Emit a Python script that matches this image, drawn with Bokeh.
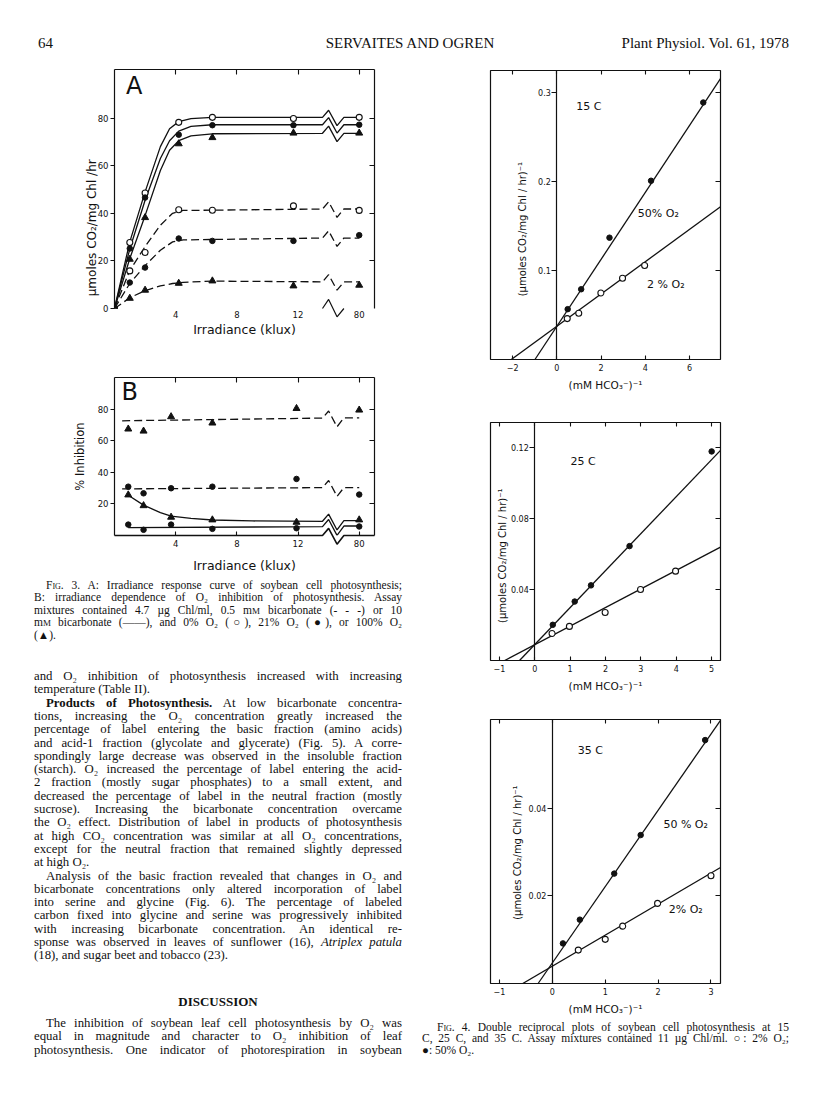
import math
from bokeh.plotting import figure
from bokeh.models import LinearAxis, FixedTicker, Div, Range1d
from bokeh.layouts import column, row
from bokeh.embed import file_html
from bokeh.resources import INLINE
from bokeh.core.properties import value

INK = "#111111"
SANS = "DejaVu Sans"

# ---------------- Fig. 3 data ----------------
irr_A = [0.0, 1.0, 2.0, 4.2, 6.4, 11.7, 80.0]          # klux
irr_B = [0.9, 1.9, 3.7, 6.4, 11.9, 80.0]               # klux
POS_80 = 16.0                                            # 80 klux drawn after the axis break

A_hi_0 = [0.0, 27.7, 48.5, 78.2, 80.3, 79.8, 80.3]
A_hi_21 = [0.0, 25.2, 46.6, 73.0, 77.0, 77.0, 77.2]
A_hi_100 = [0.0, 20.7, 38.2, 69.2, 71.8, 73.7, 73.7]
A_lo_0 = [0.0, 15.8, 23.5, 41.5, 41.3, 43.1, 41.2]
A_lo_21 = [0.0, 10.9, 17.2, 29.4, 28.4, 28.4, 30.8]
A_lo_100 = [0.0, 4.3, 7.7, 10.6, 11.6, 9.5, 9.8]

# drawn curves (vertices)
A_cx_hi = [0, 1.0, 2.0, 3.0, 3.6, 4.2, 5.0, 6.4, 13.6]
A_c_hi_0 = [0, 28, 49, 68, 75.5, 78.5, 79.8, 80.3, 80.3]
A_c_hi_21 = [0, 25, 45.5, 63, 70.5, 74.5, 76.5, 77.2, 77.2]
A_c_hi_100 = [0, 21, 39, 58, 66.5, 70.5, 72.5, 73.4, 73.6]
A_cx_lo = [0, 1.0, 2.0, 3.0, 3.8, 4.5, 6.4, 13.6]
A_c_lo_0 = [0, 16, 26, 35, 40, 41.2, 41.3, 41.8]
A_c_lo_21 = [0, 10.5, 18, 24.5, 28, 28.8, 29, 29.6]
A_c_lo_100 = [0, 4.5, 7.5, 9.5, 10.5, 11, 11.5, 11.2]

B_lo_100 = [67.4, 66.1, 75.2, 71.2, 80.4, 79.4]
B_lo_21 = [30.9, 26.7, 29.9, 30.9, 35.8, 25.9]
B_hi_100 = [25.7, 18.9, 11.6, 9.9, 8.4, 9.9]
B_hi_21 = [6.9, 3.6, 6.9, 4.2, 4.6, 5.7]

B_cx_lo = [0.5, 13.6]
B_c_lo_100 = [72.6, 74.3]
B_c_lo_21 = [29.5, 30.3]
B_cx_hi100 = [0.9, 1.9, 3.0, 3.7, 5.0, 6.4, 9.0, 13.6]
B_c_hi_100 = [25.5, 19.2, 14.5, 12.3, 10.8, 9.8, 9.2, 9.0]
B_cx_hi21 = [0.9, 13.6]
B_c_hi_21 = [5.0, 5.6]

BREAK_X = [13.6, 14.0, 14.55, 15.0]
BREAK_DY_A = [0, 3.0, -3.5, 0]
BREAK_DY_B = [0, 4.5, -5.5, 0]

# ---------------- Fig. 4 data ----------------
c15_x50 = [0.49, 1.1, 2.38, 4.26, 6.62]
c15_y50 = [0.0566, 0.079, 0.137, 0.201, 0.289]
c15_x2 = [0.47, 0.99, 1.99, 2.97, 3.97]
c15_y2 = [0.046, 0.052, 0.0747, 0.0913, 0.1057]
c15_fit50 = ([-0.99, 7.4], [0.0, 0.316])
c15_fit2 = ([-2.06, 7.4], [0.0, 0.1717])

c25_x50 = [0.51, 1.13, 1.59, 2.68, 5.0]
c25_y50 = [0.0201, 0.0332, 0.0423, 0.0644, 0.1177]
c25_x2 = [0.49, 0.98, 1.99, 2.99, 3.98]
c25_y2 = [0.0152, 0.0192, 0.027, 0.040, 0.0503]
c25_fit50 = ([-0.43, 5.25], [0.0, 0.1183])
c25_fit2 = ([-0.85, 5.25], [0.0, 0.0638])

c35_x50 = [0.2, 0.52, 1.17, 1.67, 2.89]
c35_y50 = [0.00916, 0.01458, 0.0251, 0.0339, 0.0556]
c35_x2 = [0.49, 1.0, 1.33, 1.99, 3.0]
c35_y2 = [0.00763, 0.01008, 0.0131, 0.0183, 0.0246]
c35_fit50 = ([-0.27, 3.19], [0.0, 0.0603])
c35_fit2 = ([-0.56, 3.18], [0.0, 0.0265])


def pos(v):
    return POS_80 if v >= 80 else v


def broken(xs, ys, dy, end=None):
    y0 = ys[-1]
    y1 = y0 if end is None else end
    bx = list(xs) + BREAK_X[1:] + [POS_80]
    by = list(ys) + [y0 + dy[1], y0 + dy[2], y1, y1]
    return bx, by


def make_fig(w, h, xr, yr, ml, mr, mt, mb):
    p = figure(width=w, height=h, x_range=Range1d(*xr), y_range=Range1d(*yr),
               output_backend="svg", toolbar_location=None,
               min_border_left=ml, min_border_right=mr,
               min_border_top=mt, min_border_bottom=mb)
    p.xgrid.visible = False
    p.ygrid.visible = False
    p.outline_line_color = None
    p.border_fill_color = "white"
    p.background_fill_color = "white"
    return p


def style_axis(ax, ticks, tin=0, tout=0, labels=True, line=True, size="8.5px",
               standoff=2, overrides=None, title=None, tsize="12px", tstand=2):
    ax.ticker = FixedTicker(ticks=ticks)
    ax.minor_tick_line_color = None
    ax.major_tick_in = tin
    ax.major_tick_out = tout
    ax.major_tick_line_color = INK if (tin or tout) else None
    ax.major_tick_line_width = 1.1
    ax.axis_line_color = INK if line else None
    ax.axis_line_width = 1.2
    if labels:
        ax.major_label_text_font = SANS
        ax.major_label_text_font_size = size
        ax.major_label_text_color = INK
        ax.major_label_standoff = standoff
        if overrides:
            ax.major_label_overrides = overrides
    else:
        ax.major_label_text_font_size = "1px"
        ax.major_label_text_alpha = 0
        ax.major_label_standoff = 0
    if title:
        ax.axis_label = title
        ax.axis_label_text_font = SANS
        ax.axis_label_text_font_size = tsize
        ax.axis_label_text_font_style = "normal"
        ax.axis_label_text_color = INK
        ax.axis_label_standoff = tstand


def vlabel(p, x, y, text, size):
    r = p.text(x=[x], y=[y], text=[text], angle=math.pi / 2, text_align="center",
               text_baseline="middle", text_font=value(SANS), text_font_size=size,
               text_color=INK)
    r.level = "overlay"


def pts(p, xs, ys, kind):
    if kind == "open":
        p.scatter(xs, ys, marker="circle", size=6, fill_color="white", line_color=INK, line_width=1.1)
    elif kind == "fill":
        p.scatter(xs, ys, marker="circle", size=5.5, fill_color=INK, line_color=INK)
    else:
        p.scatter(xs, ys, marker="triangle", size=7, fill_color=INK, line_color=INK)


# ---------------- Figure A ----------------
fA = make_fig(408, 280, (0, 17), (0, 100.4), 109, 34, 7, 34)
style_axis(fA.xaxis[0], [4, 8, 12, 16], line=False, standoff=2, overrides={16: "80"},
           title="Irradiance (klux)", tsize="12.5px", tstand=1)
style_axis(fA.yaxis[0], [0, 20, 40, 60, 80], tout=4, standoff=2)
vlabel(fA, -1.5, 33.9, "\u00b5moles CO\u2082/mg Chl /hr", "12px")
topA = LinearAxis()
style_axis(topA, [4, 8, 12, 16], tin=5, labels=False)
fA.add_layout(topA, "above")
rightA = LinearAxis()
style_axis(rightA, [20, 40, 60, 80], tin=5, labels=False)
fA.add_layout(rightA, "right")

posA = [pos(v) for v in irr_A]
for cx, cy in [(A_cx_hi, A_c_hi_0), (A_cx_hi, A_c_hi_21), (A_cx_hi, A_c_hi_100)]:
    bx, by = broken(cx, cy, BREAK_DY_A)
    fA.line(bx, by, line_color=INK, line_width=1.3)
for cx, cy in [(A_cx_lo, A_c_lo_0), (A_cx_lo, A_c_lo_21), (A_cx_lo, A_c_lo_100)]:
    bx, by = broken(cx, cy, BREAK_DY_A)
    fA.line(bx, by, line_color=INK, line_width=1.3, line_dash="8 4")
r = fA.line(BREAK_X, [0, 3.8, -3.5, 0], line_color=INK, line_width=1.2)
r.level = "overlay"
pts(fA, posA, A_hi_0, "open")
pts(fA, posA, A_hi_21, "fill")
pts(fA, posA, A_hi_100, "tri")
pts(fA, posA, A_lo_0, "open")
pts(fA, posA, A_lo_21, "fill")
pts(fA, posA, A_lo_100, "tri")
fA.text(x=[0.76], y=[93.5], text=["A"], text_font=value(SANS), text_font_size="24px",
        text_baseline="middle", text_align="left", text_color=INK)

# ---------------- Figure B ----------------
fB = make_fig(408, 235, (0, 17), (0, 100), 114, 29, 35, 42)
style_axis(fB.xaxis[0], [4, 8, 12, 16], tin=4, line=False, standoff=4, overrides={16: "80"},
           title="Irradiance (klux)", tsize="12.5px", tstand=8)
style_axis(fB.yaxis[0], [20, 40, 60, 80], tout=4, standoff=2,
           title="% Inhibition", tsize="11.5px", tstand=8)
topB = LinearAxis()
style_axis(topB, [4, 8, 12, 16], tin=5, labels=False)
fB.add_layout(topB, "above")
rightB = LinearAxis()
style_axis(rightB, [20, 40, 60, 80], tin=5, labels=False)
fB.add_layout(rightB, "right")

posB = [pos(v) for v in irr_B]
bx, by = broken(B_cx_lo, B_c_lo_100, BREAK_DY_B, end=74.5)
fB.line(bx, by, line_color=INK, line_width=1.3, line_dash="8 4")
bx, by = broken(B_cx_lo, B_c_lo_21, BREAK_DY_B, end=30.3)
fB.line(bx, by, line_color=INK, line_width=1.3, line_dash="8 4")
bx, by = broken(B_cx_hi100, B_c_hi_100, BREAK_DY_B, end=9.4)
fB.line(bx, by, line_color=INK, line_width=1.3)
bx, by = broken(B_cx_hi21, B_c_hi_21, BREAK_DY_B, end=6.0)
fB.line(bx, by, line_color=INK, line_width=1.3)
r = fB.line([0] + BREAK_X + [17], [0, 0, 4.5, -5.5, 0, 0], line_color=INK, line_width=1.6)
r.level = "overlay"
pts(fB, posB, B_lo_100, "tri")
pts(fB, posB, B_lo_21, "fill")
pts(fB, posB, B_hi_100, "tri")
pts(fB, posB, B_hi_21, "fill")
fB.text(x=[0.45], y=[91], text=["B"], text_font=value(SANS), text_font_size="24px",
        text_baseline="middle", text_align="left", text_color=INK)

# ---------------- Fig. 4 panels ----------------
YT = "(\u00b5moles CO\u2082/mg Chl / hr)\u207b\u00b9"
XT = "(mM HCO\u2083\u207b)\u207b\u00b9"


def recip(w, h, xr, yr, ml, mr, mt, mb, xticks, yticks, x50, y50, x2, y2, f50, f2, lab, ytpos):
    p = make_fig(w, h, xr, yr, ml, mr, mt, mb)
    p.outline_line_color = INK
    p.outline_line_width = 1.2
    ay = p.yaxis[0]
    ay.fixed_location = 0
    style_axis(ay, yticks, tout=5, standoff=1, size="8px")
    style_axis(p.xaxis[0], xticks, tin=4, line=False, standoff=4, size="8px",
               title=XT, tsize="10.5px", tstand=5)
    t = LinearAxis()
    style_axis(t, xticks, tin=4, labels=False, line=False)
    p.add_layout(t, "above")
    rr = LinearAxis()
    style_axis(rr, yticks, tin=5, labels=False, line=False)
    p.add_layout(rr, "right")
    p.line(f50[0], f50[1], line_color=INK, line_width=1.3)
    p.line(f2[0], f2[1], line_color=INK, line_width=1.3)
    pts(p, x50, y50, "fill")
    pts(p, x2, y2, "open")
    p.text(x=lab[0], y=lab[1], text=lab[2], text_font=value(SANS), text_font_size="11px",
           text_baseline="middle", text_align="left", text_color=INK)
    vlabel(p, ytpos[0], ytpos[1], YT, "10px")
    return p


lab15 = ([0.88, 3.66, 4.08], [0.284, 0.1638, 0.0849], ["15  C", "50% O\u2082", "2 % O\u2082"])
lab25 = ([1.01], [0.1123], ["25  C"])
lab35 = ([0.48, 2.1, 2.2], [0.0533, 0.0364, 0.0169], ["35  C", "50 % O\u2082", "2% O\u2082"])

f15 = recip(392, 345, (-3, 7.4), (0, 0.325), 82, 75, 8, 48, [-2, 0, 2, 4, 6], [0.1, 0.2, 0.3],
            c15_x50, c15_y50, c15_x2, c15_y2, c15_fit50, c15_fit2, lab15, (-1.54, 0.1466))
f25 = recip(392, 291, (-1.25, 5.25), (0, 0.134), 82, 75, 15, 38, [-1, 0, 1, 2, 3, 4, 5],
            [0.04, 0.08, 0.12], c25_x50, c25_y50, c25_x2, c25_y2, c25_fit50, c25_fit2, lab25,
            (-0.92, 0.059))
f35 = recip(392, 321, (-1.17, 3.18), (0, 0.0603), 76, 80, 21, 36, [-1, 0, 1, 2, 3],
            [0.02, 0.04], c35_x50, c35_y50, c35_x2, c35_y2, c35_fit50, c35_fit2, lab35,
            (-0.66, 0.0299))

# ---------------- page text ----------------
O2 = "O\u2082"
CO2 = "CO\u2082"
MM = 'm<span style="font-size:0.78em">M</span>'
SC = '<span style="font-variant:small-caps">Fig.</span>'


def ln(html, left, center, width, size, lh, mode="J"):
    top = center - lh / 2.0
    align = {"J": "text-align:justify;text-align-last:justify;",
             "C": "text-align:center;", "R": "text-align:right;",
             "L": "text-align:left;"}[mode]
    return (f'<div style="position:absolute;left:{left:.1f}px;top:{top:.1f}px;width:{width:.1f}px;'
            f'height:{lh}px;line-height:{lh}px;font-size:{size}px;white-space:nowrap;{align}">{html}</div>')


def page_div(lines, w, h):
    inner = "".join(lines)
    html = (f'<div style="position:relative;width:{w}px;height:{h}px;'
            f"font-family:'Liberation Serif',serif;color:#111;\">{inner}</div>")
    return Div(text=html, width=w, height=h, margin=(0, 0, 0, 0), styles={"overflow": "visible"})


# header (page origin 8,8)
hdr = [
    ln("64", 38, 43, 40, 15, 18, "L"),
    ln("SERVAITES AND OGREN", 260, 43, 300, 15, 18, "C"),
    ln("Plant Physiol. Vol. 61, 1978", 489, 43, 300, 15, 18, "R"),
]
header = page_div(hdr, 800, 62)

# left column text (page origin 8,585)
LX, LW, OY = 34, 368, 585
cap3 = [
    (SC + " 3. A: Irradiance response curve of soybean cell photosynthesis;", 12, "J"),
    ("B: irradiance dependence of " + O2 + " inhibition of photosynthesis. Assay", 0, "J"),
    ("mixtures contained 4.7 \u00b5g Chl/ml, 0.5 " + MM + " bicarbonate (- - -) or 10", 0, "J"),
    (MM + " bicarbonate (\u2014\u2014), and 0% " + O2 + " (\u25cb), 21% " + O2 + " (\u25cf), or 100% " + O2, 0, "J"),
    ("(\u25b2).", 0, "L"),
]
body = [
    ("and " + O2 + " inhibition of photosynthesis increased with increasing", 0, "J"),
    ("temperature (Table II).", 0, "L"),
    ("<b>Products of Photosynthesis.</b> At low bicarbonate concentra-", 12, "J"),
    ("tions, increasing the " + O2 + " concentration greatly increased the", 0, "J"),
    ("percentage of label entering the basic fraction (amino acids)", 0, "J"),
    ("and acid-1 fraction (glycolate and glycerate) (Fig. 5). A corre-", 0, "J"),
    ("spondingly large decrease was observed in the insoluble fraction", 0, "J"),
    ("(starch). " + O2 + " increased the percentage of label entering the acid-", 0, "J"),
    ("2 fraction (mostly sugar phosphates) to a small extent, and", 0, "J"),
    ("decreased the percentage of label in the neutral fraction (mostly", 0, "J"),
    ("sucrose). Increasing the bicarbonate concentration overcame", 0, "J"),
    ("the " + O2 + " effect. Distribution of label in products of photosynthesis", 0, "J"),
    ("at high " + CO2 + " concentration was similar at all " + O2 + " concentrations,", 0, "J"),
    ("except for the neutral fraction that remained slightly depressed", 0, "J"),
    ("at high " + O2 + ".", 0, "L"),
    ("Analysis of the basic fraction revealed that changes in " + O2 + " and", 12, "J"),
    ("bicarbonate concentrations only altered incorporation of label", 0, "J"),
    ("into serine and glycine (Fig. 6). The percentage of labeled", 0, "J"),
    ("carbon fixed into glycine and serine was progressively inhibited", 0, "J"),
    ("with increasing bicarbonate concentration. An identical re-", 0, "J"),
    ("sponse was observed in leaves of sunflower (16), <i>Atriplex patula</i>", 0, "J"),
    ("(18), and sugar beet and tobacco (23).", 0, "L"),
]
disc = [
    ("The inhibition of soybean leaf cell photosynthesis by " + O2 + " was", 12, "J"),
    ("equal in magnitude and character to " + O2 + " inhibition of leaf", 0, "J"),
    ("photosynthesis. One indicator of photorespiration in soybean", 0, "J"),
]
left_lines = []
for i, (t, ind, m) in enumerate(cap3):
    left_lines.append(ln(t, LX + ind, 593 + 12.6 * i - OY, LW - ind, 11.5, 13, m))
for i, (t, ind, m) in enumerate(body):
    left_lines.append(ln(t, LX + ind, 684 + 13.3 * i - OY, LW - ind, 12.8, 14, m))
left_lines.append(ln("<b>DISCUSSION</b>", LX, 1010 - OY, LW, 13, 14, "C"))
for i, (t, ind, m) in enumerate(disc):
    left_lines.append(ln(t, LX + ind, 1031 + 13.3 * i - OY, LW - ind, 12.8, 14, m))
left_text = page_div(left_lines, 408, 511)

# right caption (page origin 416,1027)
RX, RW, RY = 14, 367, 1027
cap4 = [
    (SC + " 4. Double reciprocal plots of soybean cell photosynthesis at 15", 15, "J"),
    ("C, 25 C, and 35 C. Assay mixtures contained 11 \u00b5g Chl/ml. \u25cb: 2% " + O2 + ";", 0, "J"),
    ("\u25cf: 50% " + O2 + ".", 0, "L"),
]
right_lines = []
for i, (t, ind, m) in enumerate(cap4):
    right_lines.append(ln(t, RX + ind, 1035 + 11.7 * i - RY, RW - ind, 11.5, 13, m))
right_text = page_div(right_lines, 392, 69)

left_col = column(fA, fB, left_text, spacing=0)
right_col = column(f15, f25, f35, right_text, spacing=0)
page = column(header, row(left_col, right_col, spacing=0), spacing=0)

open("out.html", "w").write(file_html(page, INLINE, title="Servaites and Ogren 1978"))
